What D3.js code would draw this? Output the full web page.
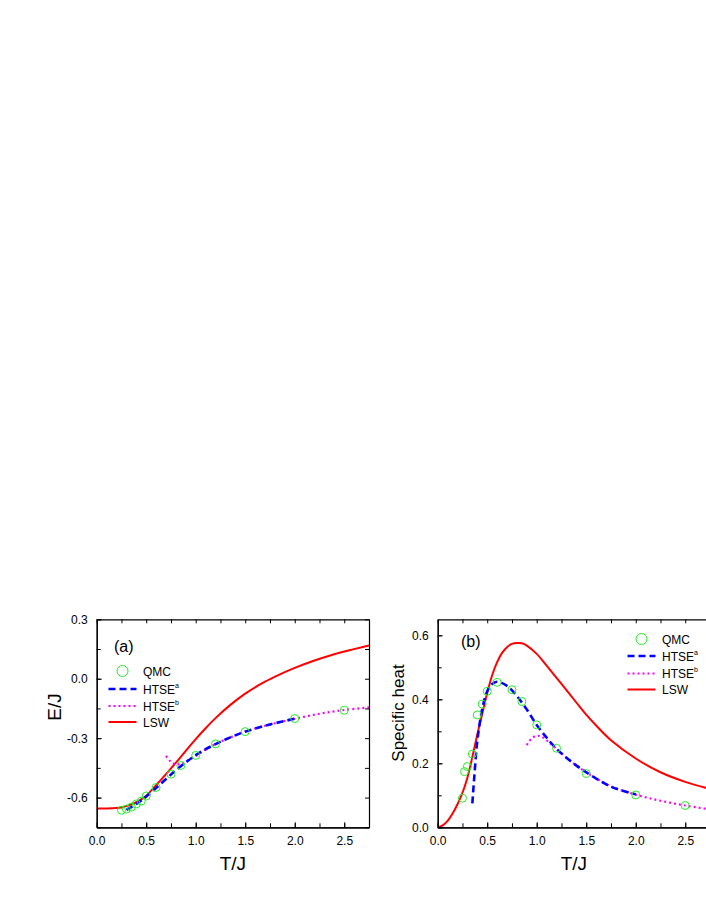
<!DOCTYPE html>
<html><head><meta charset="utf-8">
<script src="https://cdn.jsdelivr.net/npm/d3@7"></script>
<style>html,body{margin:0;padding:0;background:#fff;} svg{display:block;font-family:"Liberation Sans",Arial,sans-serif;}</style>
</head><body>
<script>
// ---------- data ----------
const xTicks = [0.0, 0.5, 1.0, 1.5, 2.0, 2.5];
const xTickLabels = ["0.0", "0.5", "1.0", "1.5", "2.0", "2.5"];
const yTicksA = [-0.6, -0.3, 0.0, 0.3];
const yTickLabelsA = ["-0.6", "-0.3", "0.0", "0.3"];
const yTicksB = [0.0, 0.2, 0.4, 0.6];
const yTickLabelsB = ["0.0", "0.2", "0.4", "0.6"];
const legendLabels = ["QMC", "HTSE", "HTSE", "LSW"];
const legendSup = ["", "a", "b", ""];

// panel (a): energy
const T_qmcA = [0.25, 0.3, 0.35, 0.4, 0.45, 0.5, 0.6, 0.75, 0.85, 1.0, 1.2, 1.5, 2.0, 2.5];
const E_qmcA = [-0.664, -0.658, -0.648, -0.632, -0.618, -0.592, -0.549, -0.482, -0.438, -0.387, -0.329, -0.267, -0.201, -0.159];
const T_htseaA = [0.3, 0.35, 0.4, 0.45, 0.5, 0.6, 0.7, 0.8, 0.9, 1.0, 1.1, 1.2, 1.35, 1.5, 1.75, 2.0];
const E_htseaA = [-0.662, -0.648, -0.632, -0.615, -0.595, -0.552, -0.506, -0.462, -0.422, -0.386, -0.356, -0.330, -0.296, -0.267, -0.231, -0.202];
const T_htsebA = [0.7, 0.75, 0.8, 0.85, 0.9, 1.0, 1.1, 1.2, 1.35, 1.5, 1.75, 2.0, 2.25, 2.5, 2.75];
const E_htsebA = [-0.390, -0.420, -0.432, -0.430, -0.418, -0.389, -0.357, -0.330, -0.296, -0.267, -0.231, -0.202, -0.177, -0.158, -0.145];
const T_lswA = [0, 0.1, 0.2, 0.25, 0.3, 0.35, 0.4, 0.45, 0.5, 0.55, 0.6, 0.7, 0.8, 0.9, 1.0, 1.1, 1.2, 1.35, 1.5, 1.7, 1.85, 2.0, 2.2, 2.35, 2.5, 2.75];
const E_lswA = [-0.655, -0.655, -0.653, -0.650, -0.643, -0.634, -0.623, -0.609, -0.591, -0.565, -0.537, -0.482, -0.424, -0.364, -0.305, -0.250, -0.199, -0.132, -0.075, -0.015, 0.022, 0.055, 0.092, 0.116, 0.137, 0.168];

// panel (b): specific heat
const T_qmcB = [0.25, 0.27, 0.3, 0.35, 0.4, 0.45, 0.5, 0.6, 0.75, 0.85, 1.0, 1.2, 1.5, 2.0, 2.5];
const C_qmcB = [0.091, 0.174, 0.190, 0.229, 0.351, 0.385, 0.425, 0.453, 0.430, 0.393, 0.320, 0.247, 0.168, 0.101, 0.068];
const T_htseaB = [0.35, 0.375, 0.4, 0.45, 0.5, 0.55, 0.6, 0.7, 0.8, 0.9, 1.0, 1.1, 1.2, 1.35, 1.5, 1.75, 2.0];
const C_htseaB = [0.075, 0.180, 0.270, 0.370, 0.425, 0.448, 0.455, 0.442, 0.410, 0.368, 0.320, 0.280, 0.245, 0.205, 0.172, 0.127, 0.103];
const T_htsebB = [0.9, 0.95, 1.0, 1.05, 1.1, 1.2, 1.35, 1.5, 1.75, 2.0, 2.25, 2.5, 2.75];
const C_htsebB = [0.257, 0.278, 0.286, 0.283, 0.272, 0.245, 0.205, 0.172, 0.128, 0.102, 0.083, 0.068, 0.056];
const T_lswB = [0, 0.05, 0.1, 0.15, 0.2, 0.25, 0.3, 0.35, 0.4, 0.45, 0.5, 0.55, 0.6, 0.65, 0.7, 0.75, 0.8, 0.85, 0.9, 1.0, 1.1, 1.25, 1.4, 1.5, 1.6, 1.75, 2.0, 2.25, 2.5, 2.75];
const C_lswB = [0, 0.006, 0.020, 0.043, 0.072, 0.108, 0.155, 0.220, 0.290, 0.355, 0.420, 0.475, 0.516, 0.545, 0.563, 0.573, 0.576, 0.575, 0.568, 0.542, 0.505, 0.448, 0.390, 0.352, 0.318, 0.272, 0.215, 0.172, 0.142, 0.120];

// ---------- drawing ----------
const W = 706, H = 913;
const svg = d3.select("body").append("svg").attr("width", W).attr("height", H);
const COL = {qmc: "#22ee22", a: "#0000ff", b: "#ff00ff", lsw: "#ff0000"};
const FONT = '"Liberation Sans", Arial, sans-serif';

function panel(opt) {
  const x = d3.scaleLinear().domain([0, 2.75]).range([opt.left, opt.left + 272.3]);
  const y = d3.scaleLinear().domain(opt.yDomain).range([827.3, 619.3]);
  const g = svg.append("g");
  const clipId = "clip" + opt.id;
  g.append("clipPath").attr("id", clipId).append("rect")
    .attr("x", x(0)).attr("y", y(opt.yDomain[1])).attr("width", x(2.75) - x(0)).attr("height", y(opt.yDomain[0]) - y(opt.yDomain[1]));

  const plot = g.append("g").attr("clip-path", `url(#${clipId})`);
  const line = d3.line().x(d => x(d[0])).y(d => y(d[1])).curve(d3.curveCatmullRom.alpha(0.5));
  const zip = (a, b) => a.map((v, i) => [v, b[i]]);

  plot.append("path").datum(zip(opt.T_lsw, opt.V_lsw)).attr("d", line)
    .attr("fill", "none").attr("stroke", COL.lsw).attr("stroke-width", 2);
  plot.append("path").datum(zip(opt.T_b, opt.V_b)).attr("d", line)
    .attr("fill", "none").attr("stroke", COL.b).attr("stroke-width", 2.2).attr("stroke-dasharray", "2,3");
  plot.append("path").datum(zip(opt.T_a, opt.V_a)).attr("d", line)
    .attr("fill", "none").attr("stroke", COL.a).attr("stroke-width", 2.6).attr("stroke-dasharray", "7,4");
  plot.selectAll("circle.q").data(zip(opt.T_q, opt.V_q)).enter().append("circle")
    .attr("cx", d => x(d[0])).attr("cy", d => y(d[1])).attr("r", 4)
    .attr("fill", "none").attr("stroke", COL.qmc).attr("stroke-width", 1);

  // axes (ticks inward on all sides)
  const xMinor = d3.range(0, 2.751, 0.25);
  const yMinor = opt.yMinor;
  const axB = d3.axisBottom(x).tickValues(xTicks).tickFormat((d, i) => xTickLabels[i]).tickSizeInner(-5).tickSizeOuter(0).tickPadding(9);
  const axT = d3.axisTop(x).tickValues(xMinor).tickFormat("").tickSizeInner(-4).tickSizeOuter(0);
  const axL = d3.axisLeft(y).tickValues(opt.yTicks).tickFormat((d, i) => opt.yLabels[i]).tickSizeInner(-5).tickSizeOuter(0).tickPadding(9);
  const axR = d3.axisRight(y).tickValues(yMinor).tickFormat("").tickSizeInner(-4).tickSizeOuter(0);
  const axBm = d3.axisBottom(x).tickValues(xMinor).tickFormat("").tickSizeInner(-4).tickSizeOuter(0);
  const axLm = d3.axisLeft(y).tickValues(yMinor).tickFormat("").tickSizeInner(-4).tickSizeOuter(0);

  const yb = y(opt.yDomain[0]), yt = y(opt.yDomain[1]);
  const style = s => {
    s.selectAll("path").attr("stroke", "#000").attr("stroke-width", 1.2);
    s.selectAll("line").attr("stroke", "#000").attr("stroke-width", 1);
    s.selectAll("text").attr("font-family", FONT).attr("font-size", 12).attr("fill", "#000");
  };
  g.append("g").attr("transform", `translate(0,${yb})`).call(axBm).call(style);
  g.append("g").attr("transform", `translate(0,${yb})`).call(axB).call(style);
  g.append("g").attr("transform", `translate(0,${yt})`).call(axT).call(style);
  g.append("g").attr("transform", `translate(${x(0)},0)`).call(axLm).call(style);
  g.append("g").attr("transform", `translate(${x(0)},0)`).call(axL).call(style);
  g.append("g").attr("transform", `translate(${x(2.75)},0)`).call(axR).call(style);

  // axis titles
  g.append("text").attr("x", (x(0) + x(2.75)) / 2).attr("y", 870).attr("text-anchor", "middle")
    .attr("font-family", FONT).attr("font-size", 19).text("T/J");
  g.append("text").attr("transform", `translate(${opt.yTitleX},${opt.yTitleY}) rotate(-90)`).attr("text-anchor", "middle")
    .attr("font-family", FONT).attr("font-size", opt.yTitleSize).text(opt.yTitle);

  // panel label
  g.append("text").attr("x", opt.labX).attr("y", opt.labY).attr("font-family", FONT).attr("font-size", 16).text(opt.label);

  // legend
  const lg = g.append("g");
  opt.legRows.forEach((ry, i) => {
    const cx0 = opt.legX0, cx1 = opt.legX0 + 28;
    if (i === 0) {
      lg.append("circle").attr("cx", (cx0 + cx1) / 2).attr("cy", ry).attr("r", 5.5)
        .attr("fill", "none").attr("stroke", COL.qmc).attr("stroke-width", 1);
    } else {
      const st = [null, {c: COL.a, w: 2.6, d: "7,4"}, {c: COL.b, w: 2.2, d: "2,3"}, {c: COL.lsw, w: 2, d: null}][i];
      const l = lg.append("line").attr("x1", cx0).attr("x2", cx1).attr("y1", ry).attr("y2", ry)
        .attr("stroke", st.c).attr("stroke-width", st.w);
      if (st.d) l.attr("stroke-dasharray", st.d);
    }
    const t = lg.append("text").attr("x", opt.legTextX).attr("y", ry + 4.5)
      .attr("font-family", FONT).attr("font-size", 12).text(legendLabels[i]);
    if (legendSup[i]) t.append("tspan").attr("font-size", 7).attr("dy", -6).text(legendSup[i]);
  });
}

panel({
  id: "a", left: 96.7, yDomain: [-0.75, 0.3], yTicks: yTicksA, yLabels: yTickLabelsA,
  yMinor: [-0.75, -0.6, -0.45, -0.3, -0.15, 0.0, 0.15, 0.3],
  T_q: T_qmcA, V_q: E_qmcA, T_a: T_htseaA, V_a: E_htseaA, T_b: T_htsebA, V_b: E_htsebA, T_lsw: T_lswA, V_lsw: E_lswA,
  yTitle: "E/J", yTitleX: 61, yTitleY: 707, yTitleSize: 19,
  label: "(a)", labX: 114, labY: 652,
  legRows: [671, 689, 706, 722], legX0: 108.5, legTextX: 143
});
panel({
  id: "b", left: 437.7, yDomain: [0, 0.65], yTicks: yTicksB, yLabels: yTickLabelsB,
  yMinor: [0, 0.1, 0.2, 0.3, 0.4, 0.5, 0.6],
  T_q: T_qmcB, V_q: C_qmcB, T_a: T_htseaB, V_a: C_htseaB, T_b: T_htsebB, V_b: C_htsebB, T_lsw: T_lswB, V_lsw: C_lswB,
  yTitle: "Specific heat", yTitleX: 404, yTitleY: 713, yTitleSize: 17,
  label: "(b)", labX: 461, labY: 647,
  legRows: [639, 656, 673.5, 689.5], legX0: 627.5, legTextX: 662
});
</script>
</body></html>
